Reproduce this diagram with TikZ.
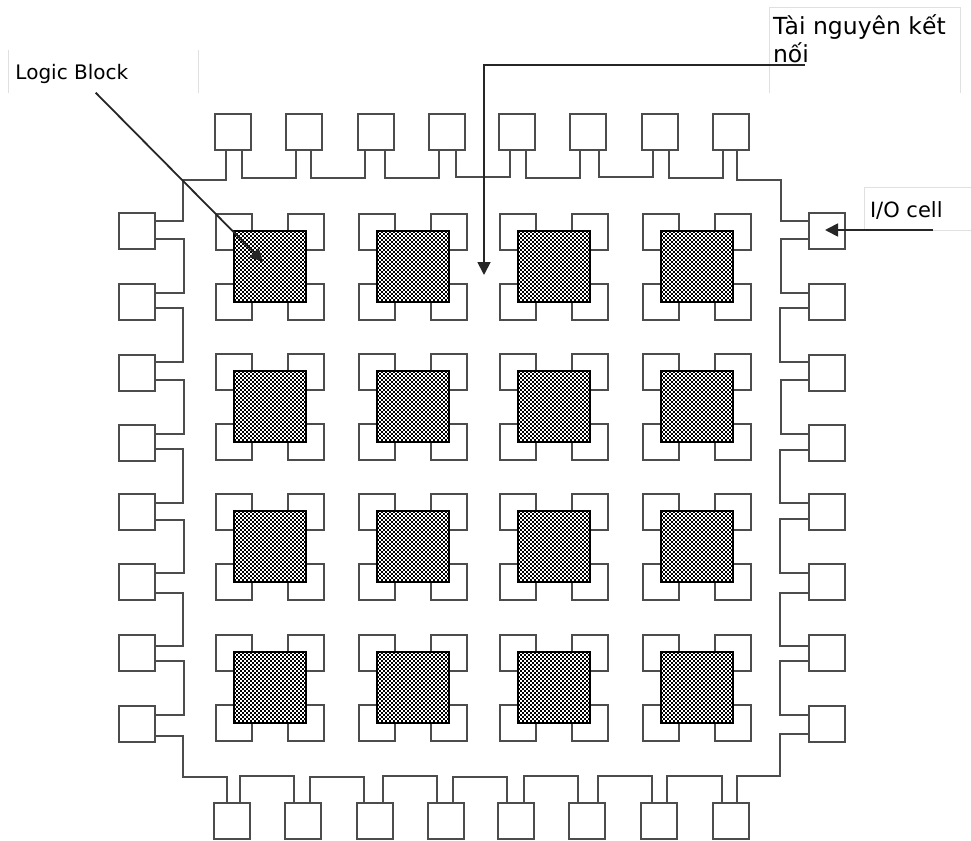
\documentclass[tikz,border=0pt]{standalone}
\usepackage{fontspec}
\setmainfont{DejaVu Sans}
\usetikzlibrary{arrows.meta}
\tikzset{
  x=1pt,y=-1pt,
  pin/.style={draw=black!70,line width=1.5pt,fill=white,minimum size=36pt,inner sep=0pt,outer sep=0pt,anchor=north west},
  block/.style={draw=black,fill=black,line width=1pt,minimum width=72pt,minimum height=71pt,inner sep=0pt,outer sep=0pt,anchor=north west},
  wire/.style={draw=black!70,line width=1.5pt,line join=miter},
  frame/.style={draw=black!12,line width=1pt},
  pointer/.style={draw=black!85,line width=1.8pt,-{Triangle[length=13pt,width=13pt]}},
  lbl/.style={inner sep=0pt,outer sep=0pt,anchor=base west,align=left,text=black},
}
\begin{document}
\begin{tikzpicture}
\useasboundingbox (0,0) rectangle (971,840);
\fill[white] (0,0) rectangle (971,840);
% label frames
\draw[frame] (8.5,50) -- (8.5,93);
\draw[frame] (198.5,50) -- (198.5,93);
\draw[frame] (769.5,93) -- (769.5,8) -- (960,8) -- (960,93);
\draw[frame] (971,187) -- (864,187) -- (864,230) -- (971,230);
% I/O pins
\foreach \n/\x in {1/215,2/286,3/358,4/429,5/499,6/570,7/642,8/713}{
  \node[pin] (t\n) at (\x,114) {};
}
\foreach \n/\x in {1/214,2/285,3/357,4/428,5/498,6/569,7/641,8/713}{
  \node[pin] (b\n) at (\x,803) {};
}
\foreach \n/\y in {1/213,2/284,3/355,4/425,5/494,6/564,7/635,8/706}{
  \node[pin] (l\n) at (119,\y) {};
  \node[pin] (r\n) at (809,\y) {};
}
% top row wires
\foreach \a/\pa/\b/\pb/\w in {1/27/2/10/178,2/25/3/7/178,3/27/4/10/178,4/27/5/11/177,5/27/6/10/178,6/29/7/11/177,7/27/8/10/178}{
  \coordinate (A) at ([xshift=\pa pt]t\a.south west);
  \coordinate (B) at ([xshift=\pb pt]t\b.south west);
  \draw[wire] (A) -- (A |- 0,\w) -- (B |- 0,\w) -- (B);
}
% bottom row wires
\foreach \a/\pa/\b/\pb/\w in {1/26/2/9/776,2/25/3/7/777,3/26/4/9/776,4/25/5/9/777,5/26/6/9/776,6/29/7/11/776,7/26/8/9/776}{
  \coordinate (A) at ([xshift=\pa pt]b\a.north west);
  \coordinate (B) at ([xshift=\pb pt]b\b.north west);
  \draw[wire] (A) -- (A |- 0,\w) -- (B |- 0,\w) -- (B);
}
% left column wires
\foreach \a/\oa/\b/\ob/\v in {1/26/2/9/184,2/24/3/7/183,3/25/4/9/184,4/24/5/9/183,5/26/6/9/184,6/29/7/11/183,7/26/8/9/184}{
  \coordinate (A) at ([yshift=-\oa pt]l\a.north east);
  \coordinate (B) at ([yshift=-\ob pt]l\b.north east);
  \draw[wire] (A) -- (A -| \v,0) -- (B -| \v,0) -- (B);
}
% right column wires
\foreach \a/\oa/\b/\ob/\v in {1/26/2/9/781,2/24/3/7/780,3/25/4/9/781,4/25/5/9/780,5/25/6/9/780,6/29/7/11/780,7/26/8/9/780}{
  \coordinate (A) at ([yshift=-\oa pt]r\a.north west);
  \coordinate (B) at ([yshift=-\ob pt]r\b.north west);
  \draw[wire] (A) -- (A -| \v,0) -- (B -| \v,0) -- (B);
}
% the four corner wires
\coordinate (A) at ([xshift=11pt]t1.south west);
\coordinate (B) at ([yshift=-8pt]l1.north east);
\draw[wire] (A) -- (A |- 0,180) -- (183,180) -- (B -| 183,0) -- (B);
\coordinate (A) at ([xshift=24pt]t8.south west);
\coordinate (B) at ([yshift=-8pt]r1.north west);
\draw[wire] (A) -- (A |- 0,180) -- (781,180) -- (B -| 781,0) -- (B);
\coordinate (A) at ([xshift=13pt]b1.north west);
\coordinate (B) at ([yshift=-30pt]l8.north east);
\draw[wire] (A) -- (A |- 0,777) -- (183,777) -- (B -| 183,0) -- (B);
\coordinate (A) at ([xshift=24pt]b8.north west);
\coordinate (B) at ([yshift=-28pt]r8.north west);
\draw[wire] (A) -- (A |- 0,776) -- (780,776) -- (B -| 780,0) -- (B);
% logic blocks with their four corner squares
\foreach \r/\y in {1/231,2/371,3/511,4/652}{
  \foreach \c/\x in {1/234,2/377,3/518,4/661}{
    \node[pin] (tl\r\c) at (\x-18,\y-17) {};
    \node[pin] (tr\r\c) at (\x+54,\y-17) {};
    \node[pin] (bl\r\c) at (\x-18,\y+53) {};
    \node[pin] (br\r\c) at (\x+54,\y+53) {};
    \node[block] (lb\r\c) at (\x,\y) {};
    \fill[white]
      \foreach \i in {0,...,35}{
        \foreach \j in {0,...,34}{
          \ifodd\numexpr\i+\j\relax
            ({\x+\i*2+0.12},{\y+\j*2+0.12}) rectangle ++(1.76,1.76)
          \fi
        }
      };
    \draw[black,line width=1.4pt] (lb\r\c.north west) rectangle (lb\r\c.south east);
  }
}
% labels
\node[lbl,font=\fontsize{20}{24}\selectfont] (logic) at (15.5,80) {Logic Block};
\node[lbl,font=\fontsize{23.5}{27.7}\selectfont] (res) at (773,62.7) {Tài nguyên kết\\nối};
\node[lbl,font=\fontsize{21}{25}\selectfont] (io) at (870,217) {I/O cell};
% pointers
\coordinate (p1s) at (95.7,92.7);
\coordinate (p1e) at (263,261.7);
\draw[pointer] (p1s) -- (p1e);
\coordinate (p2s) at (805,65);
\coordinate (p2m) at (484,65);
\coordinate (p2e) at (484,275);
\draw[pointer,line join=miter] (p2s) -- (p2m) -- (p2e);
\coordinate (p3s) at (933,230);
\coordinate (p3e) at (825,230);
\draw[pointer] (p3s) -- (p3e);
\end{tikzpicture}
\end{document}
